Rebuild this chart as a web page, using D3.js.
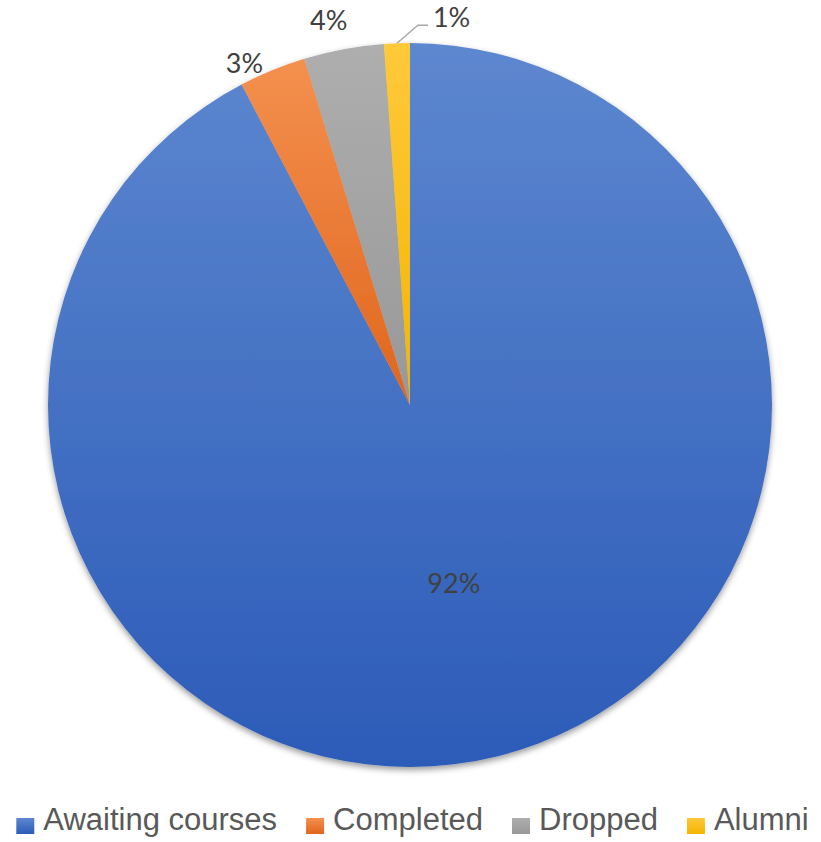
<!DOCTYPE html>
<html>
<head>
<meta charset="utf-8">
<script src="https://cdn.jsdelivr.net/npm/d3@7"></script>
<style>
  html, body { margin: 0; padding: 0; background: #fff; }
  svg { display: block; }
</style>
</head>
<body>
<svg id="chart" width="821" height="842"></svg>
<script>
// Enrolment status of learners
const categories = ["Awaiting courses", "Completed", "Dropped", "Alumni"];
const counts = [803, 26, 31, 10];

// Gradient stops per category (top, bottom)
const colorsTop = ["#5D87CF", "#F4904F", "#AEAEAE", "#FFC93A"];
const colorsBottom = ["#2C5BB8", "#E0651C", "#989898", "#F2B500"];

const W = 821, H = 842;
const cx = 410, cy = 405, R = 362;

const svg = d3.select("#chart");
const defs = svg.append("defs");

categories.forEach((c, i) => {
  const g = defs.append("linearGradient")
    .attr("id", "grad" + i)
    .attr("x1", 0).attr("y1", 0).attr("x2", 0).attr("y2", 1);
  g.append("stop").attr("offset", "0%").attr("stop-color", colorsTop[i]);
  g.append("stop").attr("offset", "100%").attr("stop-color", colorsBottom[i]);
});

const shadow = defs.append("filter").attr("id", "shadow")
  .attr("x", "-10%").attr("y", "-10%").attr("width", "120%").attr("height", "120%");
shadow.append("feDropShadow")
  .attr("dx", 0).attr("dy", 3).attr("stdDeviation", 3)
  .attr("flood-color", "#000").attr("flood-opacity", 0.4);

const total = d3.sum(counts);
const data = categories.map((c, i) => ({ name: c, value: counts[i], index: i }));

const pie = d3.pie().value(d => d.value).sort(null);
const arcs = pie(data);

const arc = d3.arc().innerRadius(0).outerRadius(R);
const edgeArc = d3.arc().innerRadius(R).outerRadius(R);
const innerLabelArc = d3.arc().innerRadius(R * 0.505).outerRadius(R * 0.505);

const pct = d3.format(".0%");

const g = svg.append("g").attr("transform", `translate(${cx},${cy})`);

g.append("g").attr("filter", "url(#shadow)")
  .selectAll("path")
  .data(arcs)
  .join("path")
  .attr("d", arc)
  .attr("fill", d => `url(#grad${d.data.index})`);

// Data labels
const labelFont = "Lato, 'Open Sans', sans-serif";
const labelColor = "#404040";
// Offsets of outside labels from the slice's outer mid-point
const labelNudge = { 1: [-28, 3], 2: [-15, -19] };

arcs.forEach(d => {
  const text = pct(d.data.value / total);
  if (d.data.index === 0) {
    const [x, y] = innerLabelArc.centroid(d);
    g.append("text")
      .attr("x", x).attr("y", y)
      .attr("text-anchor", "middle")
      .attr("dominant-baseline", "central")
      .attr("font-family", labelFont)
      .attr("font-size", 27)
      .attr("fill", labelColor)
      .text(text);
  } else if (labelNudge[d.data.index]) {
    const [ex, ey] = edgeArc.centroid(d);
    const [nx, ny] = labelNudge[d.data.index];
    g.append("text")
      .attr("x", ex + nx).attr("y", ey + ny)
      .attr("text-anchor", "middle")
      .attr("font-family", labelFont)
      .attr("font-size", 27)
      .attr("fill", labelColor)
      .text(text);
  } else {
    // small slice: label with a leader line
    const [ex, ey] = edgeArc.centroid(d);
    const elbow = [ex + 21, ey - 18];
    const end = [elbow[0] + 10, elbow[1]];
    g.append("polyline")
      .attr("points", [[ex, ey], elbow, end].map(p => p.join(",")).join(" "))
      .attr("fill", "none")
      .attr("stroke", "#A6A6A6")
      .attr("stroke-width", 1.3);
    g.append("text")
      .attr("x", end[0] + 5).attr("y", end[1] + 2)
      .attr("font-family", labelFont)
      .attr("font-size", 27)
      .attr("fill", labelColor)
      .text(text);
  }
});

// Legend
const legend = svg.append("g");
const legendFont = "'Liberation Sans', Arial, sans-serif";
const markerW = 18, markerH = 16, textGap = 9, itemGap = 29;
const baseline = 830;

const items = categories.map((c, i) => {
  const item = legend.append("g");
  item.append("rect")
    .attr("width", markerW).attr("height", markerH)
    .attr("y", baseline - 12)
    .attr("fill", `url(#grad${i})`);
  const t = item.append("text")
    .attr("x", markerW + textGap)
    .attr("y", baseline)
    .attr("font-family", legendFont)
    .attr("font-size", 31)
    .attr("fill", "#595959")
    .text(c);
  return { item, w: markerW + textGap + t.node().getComputedTextLength() };
});

const totalW = d3.sum(items, d => d.w) + itemGap * (items.length - 1);
let x0 = (W - totalW) / 2 + 2;
items.forEach(d => {
  d.item.attr("transform", `translate(${x0},0)`);
  x0 += d.w + itemGap;
});
</script>
</body>
</html>
